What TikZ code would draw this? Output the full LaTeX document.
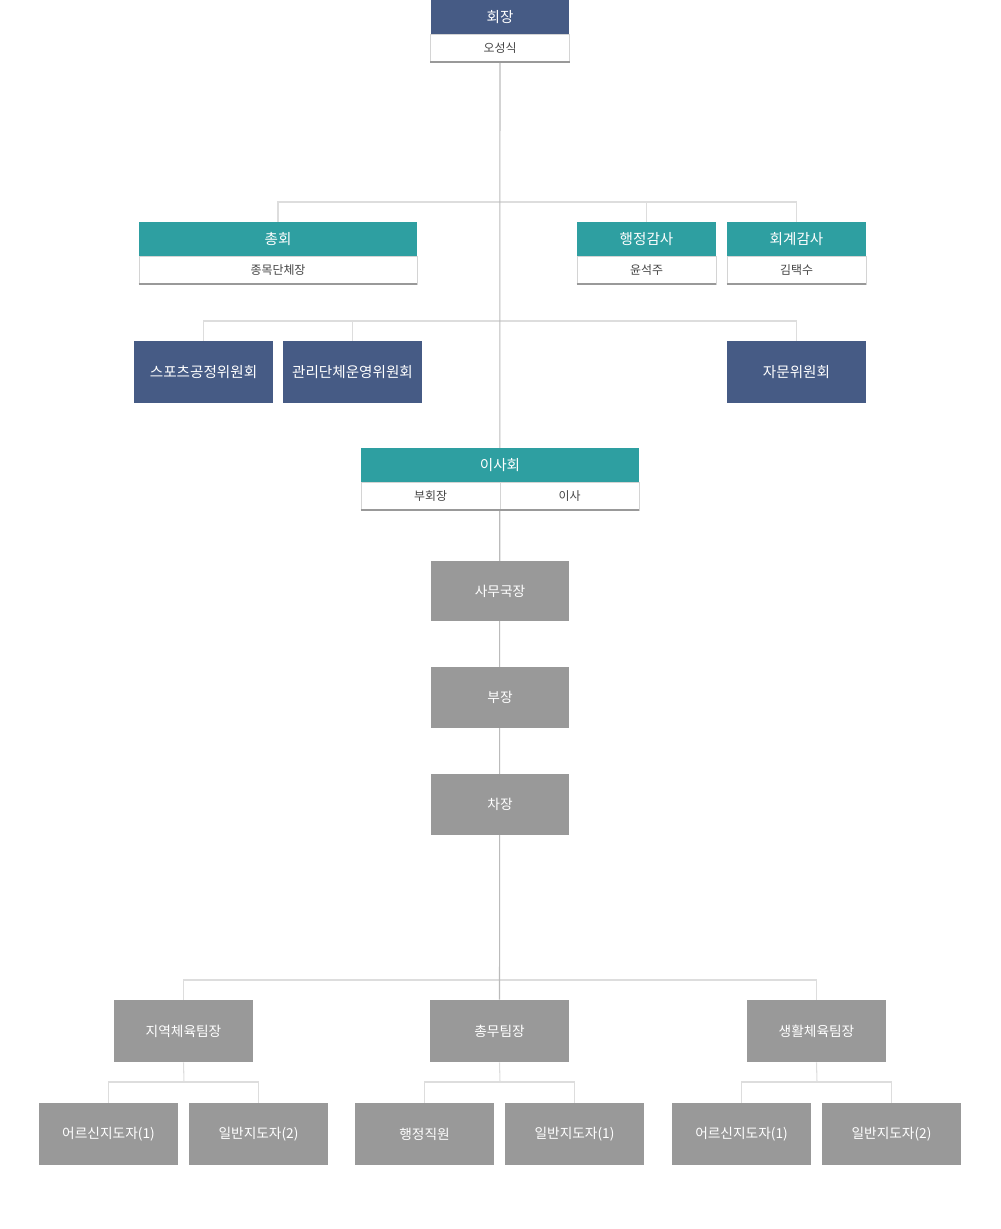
\documentclass[tikz,border=0pt]{standalone}
\usepackage{fontspec}
\newfontfamily\kr{Noto Sans CJK KR}
\usetikzlibrary{backgrounds}
\definecolor{navy}{HTML}{465B85}
\definecolor{teal2}{HTML}{2E9FA1}
\definecolor{gbox}{HTML}{999999}
\definecolor{mainln}{HTML}{BBBBBB}
\definecolor{brln}{HTML}{DDDDDD}
\definecolor{subln}{HTML}{D4D4D4}
\definecolor{subbot}{HTML}{999999}
\definecolor{subtxt}{HTML}{444444}
\tikzset{
  x=0.02cm, y=-0.02cm,
  hdr/.style={fill=#1, text=white, inner sep=0pt, minimum height=0.68cm, font=\kr\fontsize{8.3pt}{10pt}\selectfont},
  subbox/.style={draw=subln, fill=white, text=subtxt, inner sep=0pt, minimum height=0.56cm, font=\kr\fontsize{6.8pt}{8pt}\selectfont},
  gb/.style={fill=#1, text=white, inner sep=0pt, minimum width=2.78cm, minimum height=1.24cm, font=\kr\fontsize{8.3pt}{10pt}\selectfont},
  graybox/.style={fill=gbox, text=white, inner sep=0pt, minimum width=2.78cm, minimum height=1.22cm, font=\kr\fontsize{7.8pt}{10pt}\selectfont},
  mainline/.style={draw=mainln, line width=0.6pt},
  brline/.style={draw=brln, line width=0.6pt},
  botline/.style={draw=subbot, line width=1.1pt},
}
\begin{document}
\begin{tikzpicture}
\useasboundingbox (0,0) rectangle (1000,1229);
% top
\node[hdr=navy, minimum width=2.78cm] (hz) at (500,17) {회장};
\node[subbox, minimum width=2.78cm] (hzs) at (500,48) {오성식};
% row 1
\node[hdr=teal2, minimum width=5.56cm] (ch) at (278,239) {총회};
\node[subbox, minimum width=5.56cm] (chs) at (278,270) {종목단체장};
\node[hdr=teal2, minimum width=2.78cm] (hj) at (646.5,239) {행정감사};
\node[subbox, minimum width=2.78cm] (hjs) at (646.5,270) {윤석주};
\node[hdr=teal2, minimum width=2.78cm] (hg) at (796.5,239) {회계감사};
\node[subbox, minimum width=2.78cm] (hgs) at (796.5,270) {김택수};
% row 2
\node[gb=navy] (sp) at (203.5,372) {스포츠공정위원회};
\node[gb=navy] (gr) at (352.5,372) {관리단체운영위원회};
\node[gb=navy] (jm) at (796.5,372) {자문위원회};
% board
\node[hdr=teal2, minimum width=5.56cm] (is) at (500,465) {이사회};
\node[subbox, minimum width=2.78cm] (isa) at (430.5,496) {부회장};
\node[subbox, minimum width=2.78cm] (isb) at (569.5,496) {이사};
% chain
\node[graybox, minimum height=1.2cm] (sm) at (500,591) {사무국장};
\node[graybox] (bj) at (500,697.5) {부장};
\node[graybox] (cj) at (500,804.5) {차장};
% teams
\node[graybox, minimum height=1.24cm] (jy) at (183.5,1031) {지역체육팀장};
\node[graybox, minimum height=1.24cm] (cm) at (499.5,1031) {총무팀장};
\node[graybox, minimum height=1.24cm] (sh) at (816.5,1031) {생활체육팀장};
% bottom
\node[graybox, minimum height=1.24cm] (b1) at (108.5,1134) {어르신지도자(1)};
\node[graybox, minimum height=1.24cm] (b2) at (258.5,1134) {일반지도자(2)};
\node[graybox, minimum height=1.24cm] (b3) at (424.5,1134) {행정직원};
\node[graybox, minimum height=1.24cm] (b4) at (574.5,1134) {일반지도자(1)};
\node[graybox, minimum height=1.24cm] (b5) at (741.5,1134) {어르신지도자(1)};
\node[graybox, minimum height=1.24cm] (b6) at (891.5,1134) {일반지도자(2)};
% sub-box bottom borders
\foreach \n in {hzs,chs,hjs,hgs}{\draw[botline] (\n.south west) -- (\n.south east);}
\draw[botline] (isa.south west) -- (isb.south east);
% junction coordinates
\coordinate (j1) at (500,202);
\coordinate (j2) at (500,321);
\coordinate (j3) at (500,980);
\coordinate (j4) at (184,1082);
\coordinate (j5) at (500,1082);
\coordinate (j6) at (817,1082);
\begin{pgfonlayer}{background}
\draw[brline] (ch.north) |- (j1) -| (hg.north);
\draw[brline] (hj.north) -- (hj.north |- j1);
\draw[brline] (sp.north) |- (j2) -| (jm.north);
\draw[brline] (gr.north) -- (gr.north |- j2);
\draw[brline] (jy.north) |- (j3) -| (sh.north);
\draw[brline] (b1.north) |- (j4) -| (b2.north);
\draw[brline] (jy.south) -- (j4);
\draw[brline] (b3.north) |- (j5) -| (b4.north);
\draw[brline] (cm.south) -- (j5);
\draw[brline] (b5.north) |- (j6) -| (b6.north);
\draw[brline] (sh.south) -- (j6);
\draw[mainline] (hzs.south) -- (cm.north);
\end{pgfonlayer}
\end{tikzpicture}
\end{document}
